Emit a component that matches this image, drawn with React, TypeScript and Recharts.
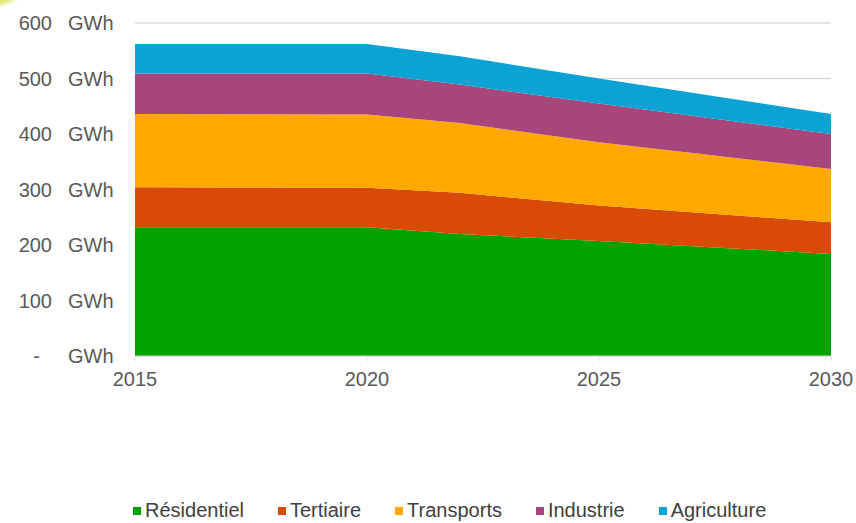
import React from 'react'
import { AreaChart, Area, XAxis, YAxis, CartesianGrid } from 'recharts'

// values in GWh
const years = [2015, 2020, 2022, 2025, 2030]
const residentiel = [232, 232, 220, 207, 184]
const tertiaire = [72, 71, 74, 64, 57]
const transports = [132, 132, 126, 114, 96]
const industrie = [73, 74, 69, 70, 63]
const agriculture = [53, 53, 51, 45, 36]

const yTicks = [0, 100, 200, 300, 400, 500, 600]
const xTicks = [2015, 2020, 2025, 2030]

const series = [
  { key: 'residentiel', name: 'Résidentiel', color: '#00a300' },
  { key: 'tertiaire', name: 'Tertiaire', color: '#d84a05' },
  { key: 'transports', name: 'Transports', color: '#ffa800' },
  { key: 'industrie', name: 'Industrie', color: '#a6467a' },
  { key: 'agriculture', name: 'Agriculture', color: '#0aa3d3' },
]

const data = years.map((year, i) => ({
  year,
  residentiel: residentiel[i],
  tertiaire: tertiaire[i],
  transports: transports[i],
  industrie: industrie[i],
  agriculture: agriculture[i],
}))

const FONT = '"Liberation Sans", Arial, sans-serif'

function GwhTick(props: { x?: number; y?: number; payload?: { value: number } }) {
  const { y, payload } = props
  if (y === undefined || !payload) return null
  const v = payload.value
  return (
    <g fontFamily={FONT} fontSize={20} fill="#595959">
      <text x={v === 0 ? 40 : 52} y={y} dy="0.35em" textAnchor="end">
        {v === 0 ? '-' : v}
      </text>
      <text x={68} y={y} dy="0.35em" textAnchor="start">
        GWh
      </text>
    </g>
  )
}

export default function App() {
  return (
    <div
      style={{
        position: 'absolute',
        left: 0,
        top: 0,
        width: 856,
        height: 523,
        background: '#fff',
        overflow: 'hidden',
        fontFamily: FONT,
      }}
    >
      {/* bit of the slide decoration in the corner */}
      <div
        style={{
          position: 'absolute',
          left: -40,
          top: -44,
          width: 64,
          height: 50,
          borderRadius: '50%',
          background: '#dfe86a',
          filter: 'blur(2px)',
        }}
      />
      <AreaChart
        width={856}
        height={523}
        data={data}
        margin={{ top: 23, right: 25, left: 0, bottom: 137 }}
      >
        <CartesianGrid vertical={false} stroke="#d9d9d9" strokeWidth={1.5} />
        <XAxis
          dataKey="year"
          type="number"
          domain={[2015, 2030]}
          ticks={xTicks}
          height={30}
          axisLine={{ stroke: '#d9d9d9' }}
          tickLine={{ stroke: '#d9d9d9' }}
          tickSize={5}
          tickMargin={11}
          tick={{ fontSize: 20, fill: '#595959', fontFamily: FONT }}
        />
        <YAxis
          domain={[0, 600]}
          ticks={yTicks}
          width={135}
          axisLine={false}
          tickLine={false}
          tick={<GwhTick />}
        />
        {series.map((s) => (
          <Area
            key={s.key}
            type="linear"
            dataKey={s.key}
            name={s.name}
            stackId="1"
            stroke="none"
            fill={s.color}
            fillOpacity={1}
            isAnimationActive={false}
          />
        ))}
      </AreaChart>
      <div
        style={{
          position: 'absolute',
          left: 133,
          top: 499,
          display: 'flex',
          alignItems: 'center',
          fontSize: 20,
          color: '#404040',
          whiteSpace: 'nowrap',
        }}
      >
        {series.map((s) => (
          <div key={s.key} style={{ display: 'flex', alignItems: 'center', marginRight: 34 }}>
            <span
              style={{
                display: 'inline-block',
                width: 8,
                height: 8,
                background: s.color,
                marginRight: 4,
              }}
            />
            <span>{s.name}</span>
          </div>
        ))}
      </div>
    </div>
  )
}
